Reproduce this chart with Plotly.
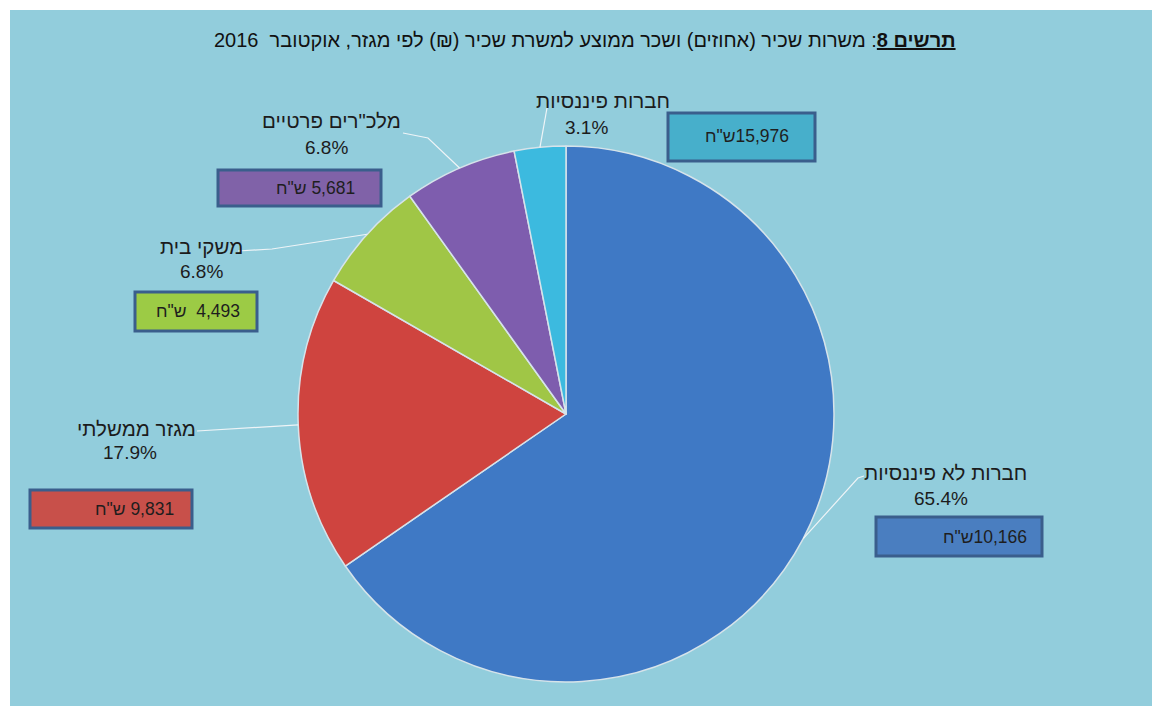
import math
import plotly.graph_objects as go

# ---------------- data ----------------
sectors = ["חברות לא פיננסיות", "מגזר ממשלתי", "משקי בית", "מלכ\"רים פרטיים", "חברות פיננסיות"]
shares = [65.4, 17.9, 6.8, 6.8, 3.1]
wages = [10166, 9831, 4493, 5681, 15976]
title_bold = "תרשים 8"
title_rest = ": משרות שכיר (אחוזים) ושכר ממוצע למשרת שכיר (₪) לפי מגזר, אוקטובר  2016"
currency = "ש\"ח"

# ---------------- style / layout ----------------
W, H = 1152, 706
BG = "#92CDDC"
FONT = "Arial, 'Liberation Sans', sans-serif"
slice_colors = ["#3F79C5", "#CF443F", "#A0C646", "#7E5DAE", "#3CBADF"]
box_colors = ["#4A7EC0", "#C8504A", "#9CCB45", "#8062A8", "#47AFCB"]
box_border = "#3A5E8C"
CX, CY, R = 566, 414, 268  # pie centre / radius in screen pixels

def px(x):
    return x / W

def py(y):
    return 1 - y / H

# label placement (screen pixels): name centre, pct centre
name_pos = [(945, 472), (136, 428), (201, 246), (331, 121), (603, 100)]
pct_pos = [(941, 498), (130, 453), (201, 272), (326, 147), (586, 127)]
# value boxes (x0, y0, x1, y1) and text right edge / centre y
boxes = [(876, 517, 1042, 556), (30, 490, 192, 528), (135, 292, 257, 331),
         (218, 170, 381, 206), (668, 113, 815, 161)]
box_text = [(1029, 537), (176, 509), (242, 311), (357, 188), (791, 136)]
box_sep = ["", " ", "  ", " ", ""]
# leader line waypoints after the pie edge point
leader_tail = [[(858, 478), (864, 476)], [(197, 431)], [(272, 249), (238, 251)],
               [(428, 138), (403, 133)], [(547, 108)]]

fig = go.Figure()
fig.add_trace(go.Pie(
    labels=sectors,
    values=shares,
    sort=False,
    direction="clockwise",
    rotation=0,
    textinfo="none",
    hoverinfo="skip",
    marker=dict(colors=slice_colors, line=dict(color="#D6E3EA", width=1.5)),
    domain=dict(x=[px(CX - R), px(CX + R)], y=[py(CY + R), py(CY - R)]),
    showlegend=False,
))

shapes = []
annotations = []

# white frame strip at top-left like the reference
shapes.append(dict(type="rect", xref="paper", yref="paper", x0=0, x1=px(10), y0=0, y1=1,
                   fillcolor="white", line=dict(width=0), layer="below"))
shapes.append(dict(type="rect", xref="paper", yref="paper", x0=0, x1=1, y0=py(10), y1=1,
                   fillcolor="white", line=dict(width=0), layer="below"))

total = sum(shares)
cum = 0.0
for i, s in enumerate(shares):
    mid = (cum + s / 2) / total * 2 * math.pi
    cum += s
    ex = CX + R * math.sin(mid)
    ey = CY - R * math.cos(mid)
    pts = [(ex, ey)] + leader_tail[i]
    path = "M " + " L ".join(f"{px(x):.5f},{py(y):.5f}" for x, y in pts)
    shapes.append(dict(type="path", xref="paper", yref="paper", path=path,
                       line=dict(color="#EEF4F7", width=1.2)))

    nx, ny = name_pos[i]
    annotations.append(dict(text=sectors[i], x=px(nx), y=py(ny), xref="paper", yref="paper",
                            showarrow=False, xanchor="center", yanchor="middle",
                            font=dict(family=FONT, size=20.5, color="#1C1C1C")))
    qx, qy = pct_pos[i]
    annotations.append(dict(text=f"{s:.1f}%", x=px(qx), y=py(qy), xref="paper", yref="paper",
                            showarrow=False, xanchor="center", yanchor="middle",
                            font=dict(family=FONT, size=19, color="#1C1C1C")))

    x0, y0, x1, y1 = boxes[i]
    shapes.append(dict(type="rect", xref="paper", yref="paper",
                       x0=px(x0), x1=px(x1), y0=py(y1), y1=py(y0),
                       fillcolor=box_colors[i], line=dict(color=box_border, width=3)))
    tx, ty = box_text[i]
    txt = f"{currency}\u200E{box_sep[i]}{wages[i]:,}"
    annotations.append(dict(text=txt, x=px(tx), y=py(ty), xref="paper", yref="paper",
                            showarrow=False, xanchor="right", yanchor="middle",
                            font=dict(family=FONT, size=17.5, color="#1E1E1E")))

annotations.append(dict(text=f"<b><u>{title_bold}</u></b>{title_rest}",
                        x=px(585), y=py(40), xref="paper", yref="paper",
                        showarrow=False, xanchor="center", yanchor="middle",
                        font=dict(family=FONT, size=20, color="#111111")))

fig.update_layout(
    width=W, height=H,
    margin=dict(l=0, r=0, t=0, b=0),
    paper_bgcolor=BG,
    plot_bgcolor=BG,
    shapes=shapes,
    annotations=annotations,
)

fig.write_html(
    "out.html",
    config={"displayModeBar": False},
    post_script=("document.body.style.margin='0';"
                 "document.body.style.overflow='hidden';"
                 "document.body.style.background='" + BG + "';"
                 "document.documentElement.style.background='" + BG + "';"),
)
